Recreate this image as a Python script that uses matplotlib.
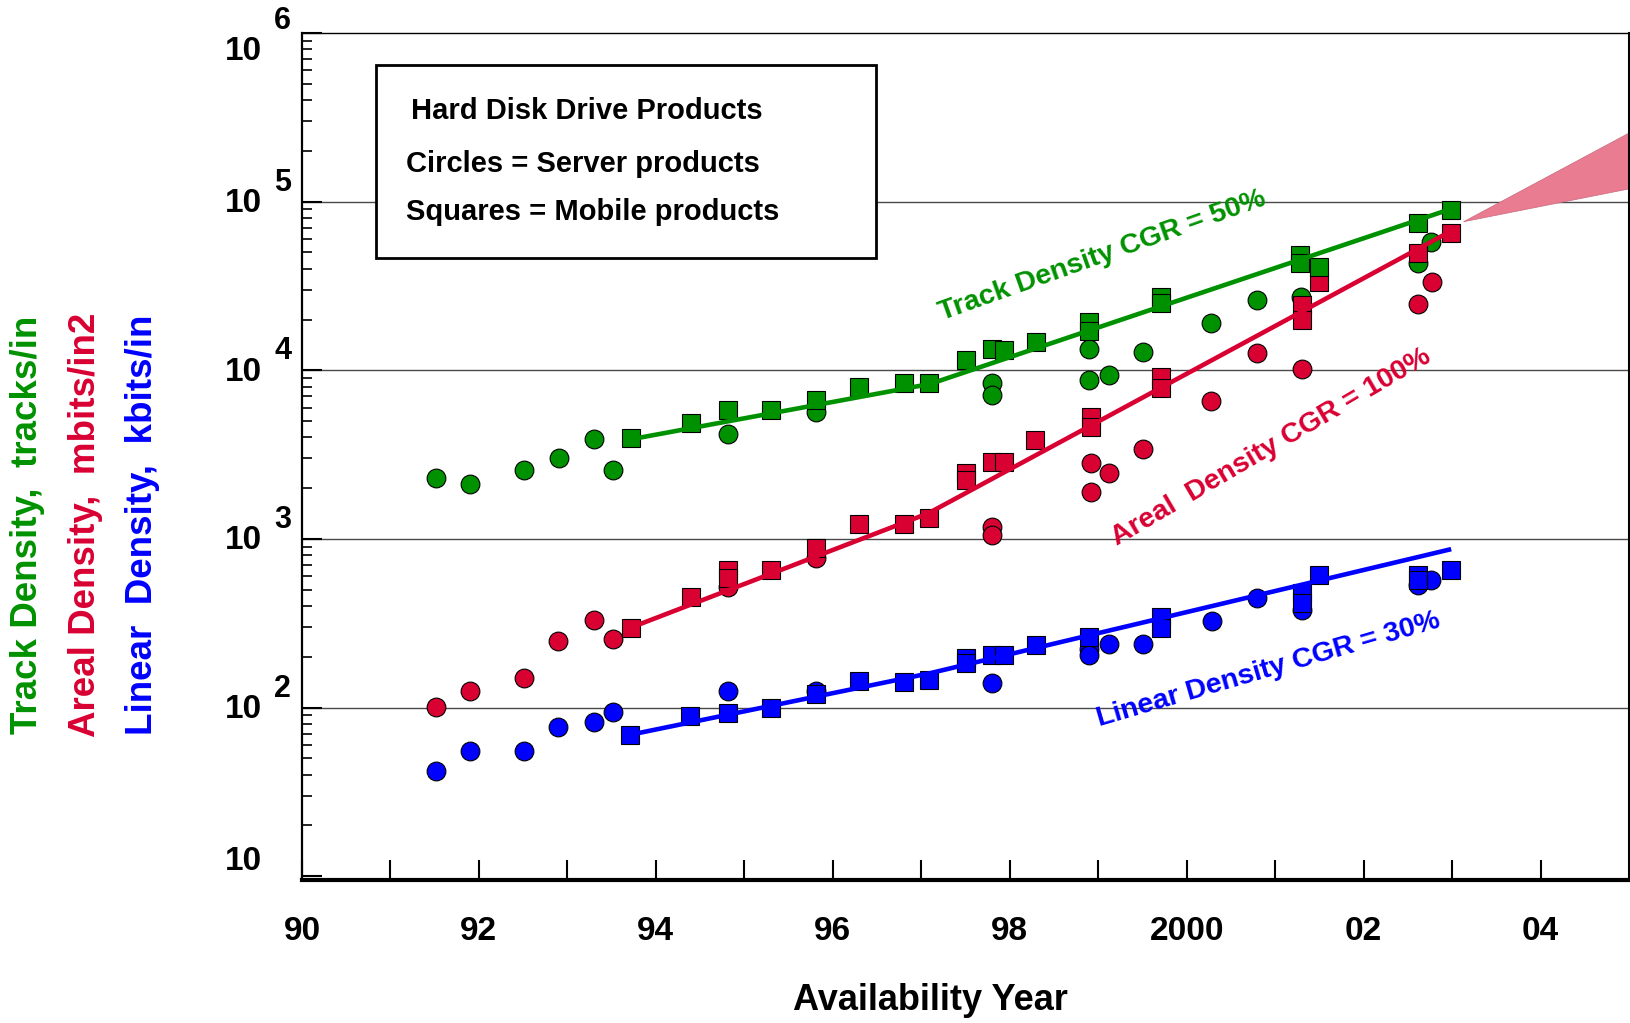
import matplotlib
matplotlib.use('Agg')
import matplotlib.pyplot as plt
import matplotlib.transforms as mtransforms
from matplotlib.patches import Rectangle, Polygon

plt.rcParams['font.family'] = ['Liberation Sans', 'DejaVu Sans']
plt.rcParams['font.weight'] = 'bold'

GREEN = '#009100'
RED = '#D90032'
BLUE = '#0000FF'
PINK = '#E97C91'

# ---------------- data ----------------
# Track density (tracks/in)
track_server_x = [1991.51, 1991.90, 1992.51, 1992.90, 1993.30, 1993.51, 1994.81, 1995.81,
                  1997.80, 1997.80, 1998.90, 1998.90, 1999.12, 1999.51, 2000.28, 2000.80,
                  2001.29, 2002.62, 2002.76]
track_server_y = [2290, 2130, 2560, 3040, 3930, 2560, 4200, 5680,
                  8450, 7100, 13300, 8800, 9400, 12900, 19200, 26200,
                  27200, 43300, 57800]
track_mobile_x = [1993.72, 1994.40, 1994.81, 1995.30, 1995.81, 1996.30, 1996.80, 1997.09,
                  1997.50, 1997.80, 1997.93, 1998.30, 1998.90, 1998.90, 1999.71, 1999.71,
                  2001.28, 2001.28, 2001.50, 2002.62, 2002.99]
track_mobile_y = [3980, 4890, 5830, 5800, 6700, 7980, 8400, 8400,
                  11500, 13400, 13200, 14800, 19400, 17000, 27300, 25000,
                  48400, 43300, 40800, 75200, 89100]

# Areal density (mbits/in2)
areal_server_x = [1991.51, 1991.90, 1992.51, 1992.89, 1993.30, 1993.51, 1994.81, 1995.81,
                  1997.80, 1997.80, 1998.92, 1998.92, 1999.12, 1999.51, 2000.28, 2000.80,
                  2001.30, 2002.62, 2002.77]
areal_server_y = [101, 126, 150, 247, 332, 255, 522, 773,
                  1175, 1055, 2830, 1900, 2460, 3400, 6600, 12600,
                  10200, 24700, 33500]
areal_mobile_x = [1993.72, 1994.40, 1994.81, 1994.81, 1995.30, 1995.81, 1996.30, 1996.80,
                  1997.09, 1997.50, 1997.50, 1997.80, 1997.93, 1998.29, 1998.92, 1998.92,
                  1999.71, 1999.71, 2001.30, 2001.30, 2001.50, 2002.62, 2002.99]
areal_mobile_y = [297, 454, 656, 587, 656, 884, 1225, 1225,
                  1333, 2450, 2250, 2870, 2870, 3870, 5280, 4600,
                  9150, 7830, 24400, 19900, 33500, 49400, 65200]

# Linear density (kbits/in)
linear_server_x = [1991.52, 1991.90, 1992.51, 1992.89, 1993.30, 1993.51, 1994.81, 1995.81,
                   1997.80, 1998.90, 1998.90, 1999.12, 1999.51, 2000.29, 2000.80, 2001.30,
                   2002.62, 2002.76]
linear_server_y = [41.8, 55.5, 55.5, 76.9, 82.6, 94.5, 126, 126,
                   140, 222, 205, 237, 237, 327, 447, 380,
                   530, 569]
linear_mobile_x = [1993.71, 1994.39, 1994.81, 1995.30, 1995.81, 1996.30, 1996.80, 1997.09,
                   1997.50, 1997.50, 1997.80, 1997.93, 1998.30, 1998.90, 1999.71, 1999.71,
                   2001.30, 2001.30, 2001.50, 2002.62, 2002.62, 2002.99]
linear_mobile_y = [68.8, 88.7, 93, 100, 121, 144, 142, 146,
                   196, 185, 205, 205, 236, 263, 346, 296,
                   480, 417, 611, 611, 569, 656]

# Trend lines (CGR fits)
track_trend_x = [1993.72, 1997.10, 2003.00]
track_trend_y = [3900, 8300, 91000]
areal_trend_x = [1993.71, 1997.08, 2002.99]
areal_trend_y = [297, 1420, 67000]
linear_trend_x = [1993.71, 1997.10, 2002.99]
linear_trend_y = [69, 160, 870]

# Projection wedge
wedge_x = [2003.13, 2005.0, 2005.0]
wedge_y = [76000, 255000, 119000]

x_tick_years = list(range(1990, 2005))
x_tick_labels = {1990: '90', 1992: '92', 1994: '94', 1996: '96', 1998: '98',
                 2000: '2000', 2002: '02', 2004: '04'}
y_exponents = [1, 2, 3, 4, 5, 6]
grid_levels = [1e2, 1e3, 1e4, 1e5]

legend_lines = ['Hard Disk Drive Products', 'Circles = Server products',
                'Squares = Mobile products']
ylabel_texts = ['Track Density,  tracks/in', 'Areal Density,  mbits/in2',
                'Linear  Density,  kbits/in']
cgr_texts = ['Track Density CGR = 50%', 'Areal  Density CGR = 100%',
             'Linear Density CGR = 30%']

# ---------------- figure ----------------
W, H = 1631, 1023
fig = plt.figure(figsize=(W / 100, H / 100), dpi=100)
L, R, T, B = 302, 1629, 33, 880
ax = fig.add_axes([L / W, 1 - B / H, (R - L) / W, (B - T) / H])
ax.set_yscale('log')
ax.set_xlim(1990, 2005)
ax.set_ylim(9.5, 1e6)

for g in grid_levels:
    ax.axhline(g, color='#4a4a4a', lw=1.0, zorder=1)

ms = 13.5
common = dict(ls='none', markeredgecolor='black', markeredgewidth=0.8)
# circles (server)
ax.plot(track_server_x, track_server_y, marker='o', ms=ms, color=GREEN, zorder=3, **common)
ax.plot(areal_server_x, areal_server_y, marker='o', ms=ms, color=RED, zorder=3, **common)
ax.plot(linear_server_x, linear_server_y, marker='o', ms=ms, color=BLUE, zorder=3, **common)
# squares (mobile)
ax.plot(areal_mobile_x, areal_mobile_y, marker='s', ms=ms, color=RED, zorder=4, **common)
ax.plot(track_mobile_x, track_mobile_y, marker='s', ms=ms, color=GREEN, zorder=5, **common)
ax.plot(linear_mobile_x, linear_mobile_y, marker='s', ms=ms, color=BLUE, zorder=5, **common)

# trend lines
ax.plot(track_trend_x, track_trend_y, color=GREEN, lw=3.3, zorder=6, solid_capstyle='butt')
ax.plot(areal_trend_x, areal_trend_y, color=RED, lw=3.3, zorder=6, solid_capstyle='butt')
ax.plot(linear_trend_x, linear_trend_y, color=BLUE, lw=3.3, zorder=6, solid_capstyle='butt')

# projection wedge
ax.add_patch(Polygon(list(zip(wedge_x, wedge_y)), closed=True, facecolor=PINK,
                     edgecolor='#c86a7c', lw=0.5, zorder=2))

# CGR annotations
ax.text(1999.05, 47600, cgr_texts[0], rotation=19.6, rotation_mode='anchor',
        ha='center', va='center', color=GREEN, fontsize=20.5, zorder=8)
ax.text(2000.96, 3520, cgr_texts[1], rotation=30.4, rotation_mode='anchor',
        ha='center', va='center', color=RED, fontsize=20.5, zorder=8)
ax.text(2000.92, 168, cgr_texts[2], rotation=16.2, rotation_mode='anchor',
        ha='center', va='center', color=BLUE, fontsize=20.5, zorder=8)

# legend box
bx0, by0, bx1, by1 = 376, 65, 876, 258
ax.add_patch(Rectangle(((bx0 - L) / (R - L), (B - by1) / (B - T)),
                       (bx1 - bx0) / (R - L), (by1 - by0) / (B - T),
                       transform=ax.transAxes, facecolor='white', edgecolor='black',
                       lw=2.0, zorder=7))
for txt, px, py in zip(legend_lines, [411, 406, 406], [119, 172.5, 220]):
    ax.text((px - L) / (R - L), (B - py) / (B - T), txt, transform=ax.transAxes,
            ha='left', va='baseline', fontsize=21, color='black', zorder=8)

# spines
ax.spines['left'].set_linewidth(1.6)
ax.spines['bottom'].set_linewidth(3.0)
ax.spines['top'].set_linewidth(1.0)
ax.spines['right'].set_linewidth(2.2)

# x ticks
ax.set_xticks(x_tick_years)
ax.set_xticklabels([x_tick_labels.get(y, '') for y in x_tick_years])
ax.tick_params(axis='x', which='major', direction='in', length=14.5, width=1.5,
               pad=26, labelsize=24)
ax.xaxis.set_minor_locator(matplotlib.ticker.NullLocator())

# y ticks
ax.tick_params(axis='y', which='major', direction='in', length=14.5, width=1.5,
               labelleft=False)
ax.tick_params(axis='y', which='minor', direction='in', length=7.5, width=1.2,
               labelleft=False)

# y tick labels "10" with raised exponent
ytrans = ax.get_yaxis_transform()
off10 = {1: 15, 6: -18}
offexp = {6: 12}
for k in y_exponents:
    d10 = off10.get(k, -2)
    t10 = mtransforms.offset_copy(ytrans, fig=fig, x=0, y=d10, units='dots')
    ax.text(-0.030, 10.0 ** k, '10', transform=t10, ha='right', va='center',
            fontsize=24, clip_on=False)
    if k > 1:
        de = offexp.get(k, 19)
        te = mtransforms.offset_copy(ytrans, fig=fig, x=0, y=de, units='dots')
        ax.text(-0.021, 10.0 ** k, str(k), transform=te, ha='left', va='center',
                fontsize=22, clip_on=False)

# axis titles
fig.text(930 / W, 1 - 1001 / H, 'Availability Year', ha='center', va='center',
         fontsize=26)
for txt, col, px in zip(ylabel_texts, [GREEN, RED, BLUE], [28, 86, 143]):
    fig.text(px / W, 1 - 525 / H, txt, rotation=90, ha='center', va='center',
             fontsize=26.5, color=col)

fig.savefig('out.png', dpi=100)
